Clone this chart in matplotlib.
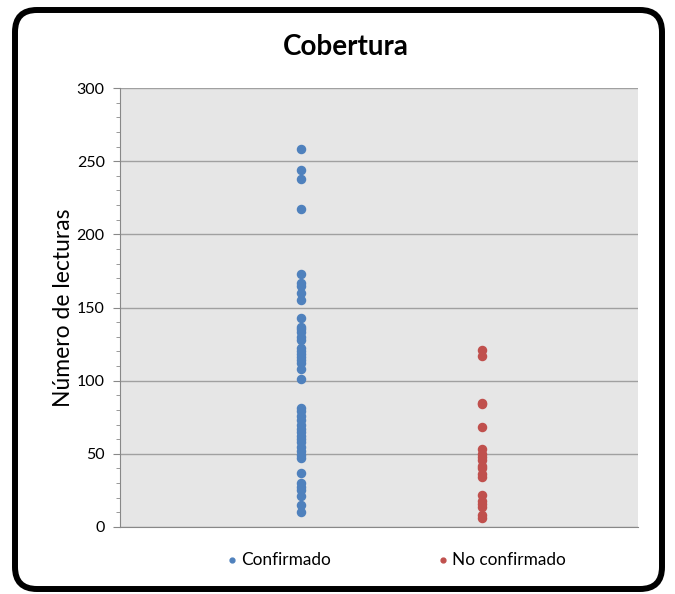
import matplotlib.pyplot as plt
from matplotlib.patches import FancyBboxPatch
from matplotlib.transforms import IdentityTransform
from matplotlib.ticker import MultipleLocator

plt.rcParams['font.family'] = ['Lato', 'DejaVu Sans']

confirmado = [258, 244, 238, 217, 173, 167, 165, 160, 155, 143, 137, 135, 133,
              130, 128, 122, 120, 118, 116, 114, 112, 108, 101, 81, 79, 76, 73,
              70, 67, 65, 62, 60, 58, 55, 52, 49, 47, 37, 30, 27, 25, 21, 15, 10]
no_confirmado = [121, 117, 85, 84, 68, 53, 50, 48, 46, 42, 40, 36, 34, 22, 18,
                 16, 14, 8, 6]
series_names = ["Confirmado", "No confirmado"]
colors = ["#4f81bd", "#c0504d"]

fig = plt.figure(figsize=(6.75, 5.94), dpi=100)
ax = fig.add_axes([120 / 675, 67 / 594, 518 / 675, 439 / 594])
ax.set_facecolor("#e6e6e6")

ax.scatter([1] * len(confirmado), confirmado, s=34, color=colors[0],
           label=series_names[0], zorder=3)
ax.scatter([2] * len(no_confirmado), no_confirmado, s=34, color=colors[1],
           label=series_names[1], zorder=3)

ax.set_xlim(0, 2.86)
ax.set_ylim(0, 300)
ax.set_xticks([])
ax.yaxis.set_major_locator(MultipleLocator(50))
ax.yaxis.set_minor_locator(MultipleLocator(10))
ax.tick_params(axis='y', which='major', length=5, color="#888888",
               labelsize=11.5, pad=6)
ax.tick_params(axis='y', which='minor', length=3, color="#888888")
ax.grid(axis='y', color="#a0a0a0", linewidth=1)
ax.set_axisbelow(True)
for s in ["top", "right"]:
    ax.spines[s].set_visible(False)
for s in ["left", "bottom"]:
    ax.spines[s].set_color("#888888")

ax.set_ylabel("Número de lecturas", fontsize=16.5, labelpad=2)
fig.text(346 / 675, 1 - 47 / 594, "Cobertura", ha='center', va='center',
         fontsize=20, fontweight='bold')

fig.legend(loc='center', bbox_to_anchor=(0.587, 34 / 594), ncol=2,
           frameon=False, fontsize=12.4, markerscale=0.6, handlelength=0.6,
           handletextpad=0.25, columnspacing=6.2)

border = FancyBboxPatch((15, 5), 647, 579,
                        boxstyle="round,pad=0,rounding_size=22",
                        transform=IdentityTransform(), facecolor='none',
                        edgecolor='black', linewidth=4.3)
fig.patches.append(border)

fig.savefig("out.png", dpi=100)
